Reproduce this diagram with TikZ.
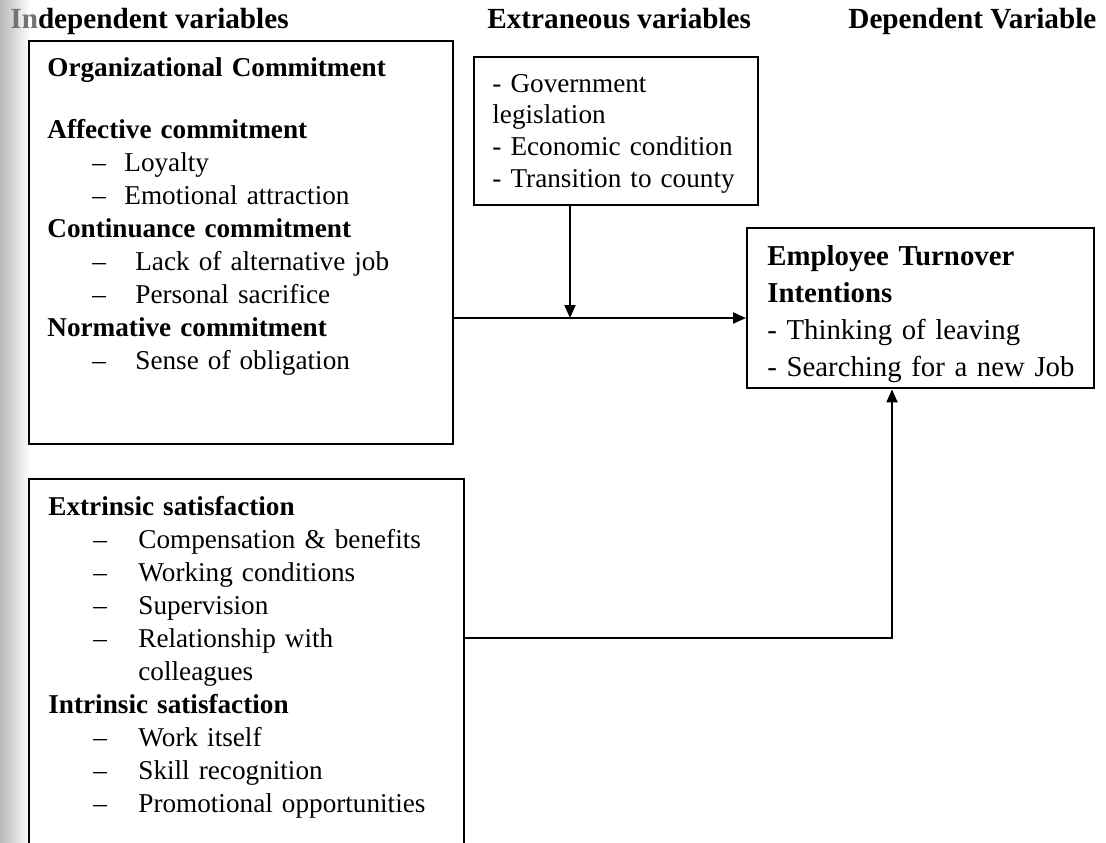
\documentclass[tikz,border=0pt]{standalone}
\usepackage{fontspec}
\setmainfont{Liberation Serif}
\usetikzlibrary{arrows.meta,calc}
\newcommand{\dashitem}[2]{\hspace*{22.5pt}\makebox[#1][l]{--}#2}
\tikzset{
  box/.style={draw, line width=1.2pt, anchor=north west, inner sep=0pt},
  txt/.style={anchor=base west, align=left, inner sep=0pt, text width=#1,
    font=\fontsize{13.6}{16.5}\selectfont},
  head/.style={anchor=base west, inner sep=0pt, font=\fontsize{14.6}{17}\selectfont\bfseries},
  conn/.style={line width=1pt, -{Triangle[length=6.5pt,width=5.5pt]}},
}
\begin{document}
\begin{tikzpicture}[x=0.5pt, y=-0.5pt]
\useasboundingbox (0,0) rectangle (1106,842);
\clip (0,0) rectangle (1106,842);
\fill[white] (0,0) rectangle (1106,842);
\shade[left color=black!28, right color=white] (0,0) rectangle (30,842);
% column headings
\node[head] (hind) at (10,28) {\textcolor{black!55}{In}dependent variables};
\node[head] (hext) at (487,28) {Extraneous variables};
\node[head] (hdep) at (848,28) {Dependent Variable};
% boxes
\node[box, minimum width=212pt, minimum height=201.5pt] (org) at (28,40) {};
\node[box, minimum width=217.5pt, minimum height=200pt] (sat) at (28,478) {};
\node[box, minimum width=142pt, minimum height=74pt] (ext) at (473,56) {};
\node[box, minimum width=173.5pt, minimum height=80pt] (emp) at (746,227) {};
% box texts
\node[txt=195pt] (orgtxt) at ([shift={(19,36)}]org.north west) {%
  \textbf{Organizational Commitment}\\[14.6pt]
  \textbf{Affective commitment}\\
  \dashitem{16pt}{Loyalty}\\
  \dashitem{16pt}{Emotional attraction}\\
  \textbf{Continuance commitment}\\
  \dashitem{21.5pt}{Lack of alternative job}\\
  \dashitem{21.5pt}{Personal sacrifice}\\
  \textbf{Normative commitment}\\
  \dashitem{21.5pt}{Sense of obligation}};
\node[txt=200pt] (sattxt) at ([shift={(20,37)}]sat.north west) {%
  \textbf{Extrinsic satisfaction}\\
  \dashitem{22.5pt}{Compensation \& benefits}\\
  \dashitem{22.5pt}{Working conditions}\\
  \dashitem{22.5pt}{Supervision}\\
  \dashitem{22.5pt}{Relationship with}\\
  \hspace*{45pt}colleagues\\
  \textbf{Intrinsic satisfaction}\\
  \dashitem{22.5pt}{Work itself}\\
  \dashitem{22.5pt}{Skill recognition}\\
  \dashitem{22.5pt}{Promotional opportunities}};
\node[txt=130pt, font=\fontsize{13.6}{15.85}\selectfont] (exttxt) at ([shift={(19,36)}]ext.north west) {%
  - Government\\
  legislation\\
  - Economic condition\\
  - Transition to county};
\node[txt=160pt, font=\fontsize{14.4}{18.6}\selectfont] (emptxt) at ([shift={(21,38)}]emp.north west) {%
  \textbf{Employee Turnover}\\
  \textbf{Intentions}\\
  - Thinking of leaving\\
  - Searching for a new Job};
% connectors
\coordinate (j) at (570,318);
\coordinate (k) at (892,638);
\draw[conn] (ext.south -| j) -- (j);
\draw[conn] (org.east |- j) -- (emp.west |- j);
\draw[conn] (sat.east |- k) -- (k) -- (emp.south -| k);
\end{tikzpicture}
\end{document}
